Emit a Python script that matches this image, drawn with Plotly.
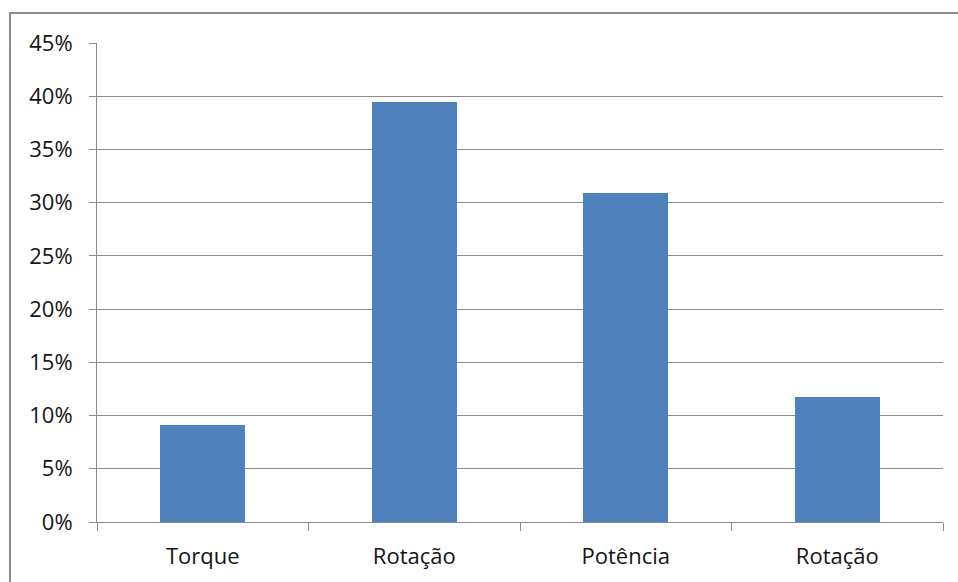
import plotly.graph_objects as go

categories = ["Torque", "Rotação", "Potência", "Rotação"]
values = [0.091, 0.395, 0.309, 0.117]
positions = [0, 1, 2, 3]

L, R, T, B = 97, 15, 43, 60
W, H = 958, 582
pw, ph = W - L - R, H - T - B

fig = go.Figure(go.Bar(
    x=positions, y=values, width=0.4,
    marker=dict(color="#4F81BD", line=dict(width=0)),
))

fig.update_layout(
    width=W, height=H,
    margin=dict(l=L, r=R, t=T, b=B),
    paper_bgcolor="white", plot_bgcolor="white",
    font=dict(family="Open Sans", size=22, color="#141414"),
    showlegend=False,
    bargap=0,
)
fig.update_xaxes(
    range=[-0.5, 3.5], tickmode="array", tickvals=positions, ticktext=categories,
    ticks="", showgrid=False, zeroline=False,
    showline=True, linecolor="#8c8c8c", linewidth=1,
    minor=dict(tickmode="array", tickvals=[-0.5, 0.5, 1.5, 2.5, 3.5],
               ticks="outside", ticklen=8, tickcolor="#8c8c8c", showgrid=False),
    ticklabelstandoff=15,
)
fig.update_yaxes(
    range=[0, 0.45], dtick=0.05, tickformat=".0%",
    showgrid=True, gridcolor="#8c8c8c", gridwidth=1,
    zeroline=False, showline=True, linecolor="#8c8c8c", linewidth=1,
    ticks="outside", ticklen=7, tickcolor="#8c8c8c",
    ticklabelstandoff=12,
)
fig.add_shape(type="rect", xref="paper", yref="paper",
              x0=(10 - L) / pw, x1=1 + 40 / pw,
              y0=-80 / ph, y1=1 + (T - 13) / ph,
              line=dict(color="#8c8c8c", width=2), fillcolor="rgba(0,0,0,0)")

fig.write_html("out.html")
